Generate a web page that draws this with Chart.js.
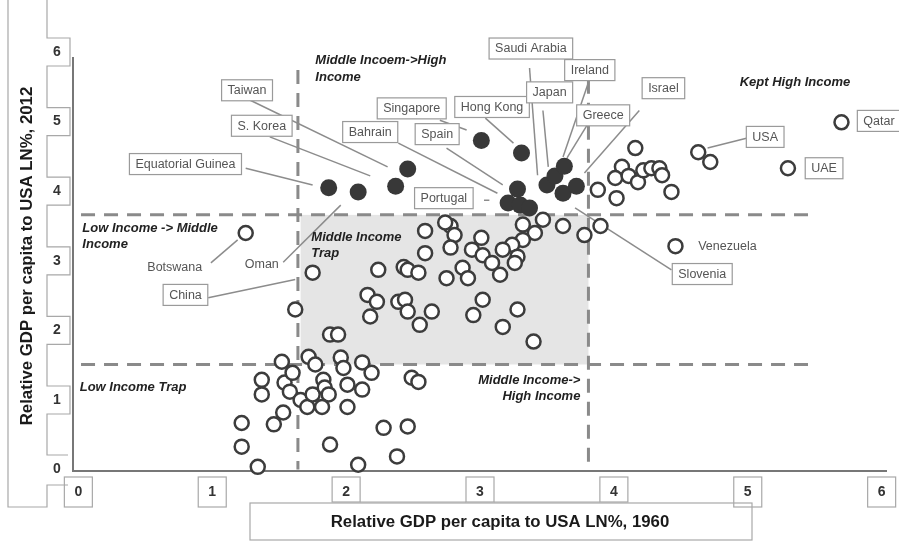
<!DOCTYPE html>
<html>
<head>
<meta charset="utf-8">
<script src="https://cdn.jsdelivr.net/npm/chart.js@4.4.1/dist/chart.umd.min.js"></script>
<style>
  body { margin: 0; background: #fff; }
  canvas { display: block; }
</style>
</head>
<body>
<canvas id="chart" width="899" height="543"></canvas>
<script>
// countries that moved up to high income (filled dots)
const upX = [1.87, 2.09, 2.37, 2.46, 3.01, 3.31, 3.28, 3.21, 3.30, 3.37, 3.50, 3.56, 3.63, 3.62, 3.72];
const upY = [4.05, 3.99, 4.07, 4.32, 4.73, 4.55, 4.03, 3.83, 3.80, 3.76, 4.09, 4.22, 4.36, 3.97, 4.07];

// all other countries (open dots)
const otherX = [4.16, 4.06, 4.01, 4.11, 4.18, 4.22, 4.28, 4.34, 4.36, 4.43, 4.02, 3.88, 4.63, 4.72, 5.30, 5.70, 4.46,
  3.90, 3.78, 3.62, 3.47, 3.41, 3.32, 3.32, 3.24, 3.17, 3.28, 3.26, 3.01, 2.94, 3.02, 3.09, 3.15, 2.87, 2.91, 2.75,
  2.78, 2.81, 2.78, 2.59, 2.74, 2.59, 3.02, 2.95, 3.28, 3.17, 3.40, 1.75, 2.24, 2.43, 2.46, 2.54, 2.16, 2.23, 2.18,
  2.39, 2.44, 2.46, 2.55, 2.64, 1.88, 1.94, 1.62, 1.72, 1.96, 2.12, 1.52, 1.77, 1.98, 2.19, 1.37, 1.37, 1.54, 1.60,
  1.58, 1.66, 1.71, 1.75, 1.83, 1.84, 1.87, 1.82, 2.01, 2.12, 2.01, 1.53, 1.46, 1.22, 1.22, 1.34, 1.88, 2.09, 2.28,
  2.46, 2.38, 2.49, 2.54, 1.25];
const otherY = [4.62, 4.35, 4.19, 4.22, 4.13, 4.30, 4.33, 4.33, 4.23, 3.99, 3.90, 4.02, 4.56, 4.42, 4.33, 4.99, 3.21,
  3.50, 3.37, 3.50, 3.59, 3.40, 3.52, 3.30, 3.23, 3.16, 3.06, 2.97, 3.33, 3.16, 3.08, 2.97, 2.80, 2.90, 2.75, 2.75,
  3.50, 3.37, 3.19, 3.43, 3.55, 3.11, 2.44, 2.22, 2.30, 2.05, 1.84, 2.83, 2.87, 2.91, 2.87, 2.83, 2.51, 2.41, 2.20,
  2.41, 2.44, 2.27, 2.08, 2.27, 1.94, 1.94, 2.30, 1.62, 1.61, 1.54, 1.55, 1.51, 1.46, 1.39, 1.29, 1.08, 1.25, 1.39,
  1.12, 1.00, 0.90, 1.08, 1.29, 1.18, 1.08, 0.90, 1.22, 1.15, 0.90, 0.82, 0.65, 0.67, 0.33, 0.04, 0.36, 0.07, 0.60,
  0.62, 0.19, 1.32, 1.26, 3.40];

const xTicks = ['0', '1', '2', '3', '4', '5', '6'];
const yTicks = ['0', '1', '2', '3', '4', '5', '6'];

// thresholds of the income zones
const zoneX = [1.64, 3.81];
const zoneY = [1.51, 3.66];
const trapBox = [1.66, 3.81, 1.51, 3.66];

// zone captions: text, x, y, align
const zoneText = [
  ['Middle Incoem->High', 1.77, 5.88, 'left'],
  ['Income', 1.77, 5.64, 'left'],
  ['Kept High Income', 4.94, 5.57, 'left'],
  ['Low Income -> Middle', 0.03, 3.47, 'left'],
  ['Income', 0.03, 3.24, 'left'],
  ['Middle Income', 1.74, 3.34, 'left'],
  ['Trap', 1.74, 3.11, 'left'],
  ['Low Income Trap', 0.01, 1.18, 'left'],
  ['Middle Income->', 3.75, 1.28, 'right'],
  ['High Income', 3.75, 1.05, 'right']
];

// country names in boxes (centre of box)
const boxNames = ['Taiwan', 'S. Korea', 'Equatorial Guinea', 'Bahrain', 'Singapore', 'Spain', 'Hong Kong',
  'Saudi Arabia', 'Ireland', 'Japan', 'Greece', 'Israel', 'Portugal', 'USA', 'UAE', 'Qatar', 'Slovenia', 'China'];
const boxX = [1.26, 1.37, 0.80, 2.18, 2.49, 2.68, 3.09, 3.38, 3.82, 3.52, 3.92, 4.37, 2.73, 5.13, 5.57, 5.98, 4.66, 0.80];
const boxY = [5.45, 4.94, 4.39, 4.85, 5.19, 4.82, 5.21, 6.05, 5.74, 5.42, 5.09, 5.48, 3.90, 4.78, 4.33, 5.01, 2.81, 2.51];

// plain country names
const plainNames = ['Venezuela', 'Botswana', 'Oman'];
const plainX = [4.63, 0.72, 1.37];
const plainY = [3.20, 2.90, 2.94];
const plainAlign = ['left', 'center', 'center'];

// leader lines [x1, y1, x2, y2]
const leaders = [
  [1.28, 5.31, 2.31, 4.35], [1.43, 4.78, 2.18, 4.22], [1.25, 4.33, 1.75, 4.09], [2.39, 4.69, 3.13, 3.97],
  [2.70, 5.02, 2.90, 4.88], [2.75, 4.62, 3.17, 4.09], [3.04, 5.05, 3.25, 4.69], [3.37, 5.77, 3.43, 4.23],
  [3.47, 5.16, 3.51, 4.35], [3.82, 5.62, 3.62, 4.49], [3.80, 4.95, 3.65, 4.48], [4.19, 5.16, 3.78, 4.26],
  [3.03, 3.87, 3.07, 3.87], [4.70, 4.62, 4.99, 4.76], [3.71, 3.76, 4.43, 2.87], [0.97, 2.47, 1.62, 2.73],
  [0.99, 2.97, 1.19, 3.30], [1.53, 2.98, 1.96, 3.80]
];

const toPts = (xs, ys) => xs.map((x, i) => ({ x: x, y: ys[i] }));

const zonesPlugin = {
  id: 'zones',
  beforeDatasetsDraw(chart) {
    const ctx = chart.ctx, sx = chart.scales.x, sy = chart.scales.y;
    ctx.save();
    // shaded middle income trap
    ctx.fillStyle = '#e5e5e5';
    const l = sx.getPixelForValue(trapBox[0]), r = sx.getPixelForValue(trapBox[1]);
    const b = sy.getPixelForValue(trapBox[2]), t = sy.getPixelForValue(trapBox[3]);
    ctx.fillRect(l, t, r - l, b - t);

    ctx.strokeStyle = '#8a8a8a';
    ctx.lineWidth = 3;
    ctx.setLineDash([14, 9]);
    zoneY.forEach(v => {
      ctx.beginPath();
      ctx.moveTo(sx.getPixelForValue(0.02), sy.getPixelForValue(v));
      ctx.lineTo(sx.getPixelForValue(5.45), sy.getPixelForValue(v));
      ctx.stroke();
    });
    const tops = [5.74, 5.6];
    zoneX.forEach((v, i) => {
      ctx.beginPath();
      ctx.moveTo(sx.getPixelForValue(v), sy.getPixelForValue(tops[i]));
      ctx.lineTo(sx.getPixelForValue(v), sy.getPixelForValue(0));
      ctx.stroke();
    });
    ctx.setLineDash([]);

    // leader lines
    ctx.strokeStyle = '#8c8c8c';
    ctx.lineWidth = 1.5;
    leaders.forEach(s => {
      ctx.beginPath();
      ctx.moveTo(sx.getPixelForValue(s[0]), sy.getPixelForValue(s[1]));
      ctx.lineTo(sx.getPixelForValue(s[2]), sy.getPixelForValue(s[3]));
      ctx.stroke();
    });

    // axis lines
    ctx.strokeStyle = '#777';
    ctx.lineWidth = 2;
    const a = chart.chartArea;
    ctx.beginPath();
    ctx.moveTo(a.left, a.top + 5);
    ctx.lineTo(a.left, a.bottom);
    ctx.lineTo(a.right, a.bottom);
    ctx.stroke();
    ctx.restore();
  },
  afterDatasetsDraw(chart) {
    const ctx = chart.ctx, sx = chart.scales.x, sy = chart.scales.y;
    ctx.save();
    ctx.textBaseline = 'middle';

    // zone captions
    ctx.fillStyle = '#222';
    ctx.font = 'italic bold 13px "Liberation Sans", Arial, sans-serif';
    zoneText.forEach(z => {
      ctx.textAlign = z[3];
      ctx.fillText(z[0], sx.getPixelForValue(z[1]), sy.getPixelForValue(z[2]));
    });

    // boxed names
    ctx.font = '12.5px "Liberation Sans", Arial, sans-serif';
    ctx.textAlign = 'center';
    boxNames.forEach((n, i) => {
      const cx = sx.getPixelForValue(boxX[i]), cy = sy.getPixelForValue(boxY[i]);
      const w = ctx.measureText(n).width + 12, h = 21;
      ctx.fillStyle = '#fff';
      ctx.fillRect(cx - w / 2, cy - h / 2, w, h);
      ctx.strokeStyle = '#9a9a9a';
      ctx.lineWidth = 1.2;
      ctx.strokeRect(cx - w / 2, cy - h / 2, w, h);
      ctx.fillStyle = '#555';
      ctx.fillText(n, cx, cy + 0.5);
    });

    ctx.fillStyle = '#555';
    plainNames.forEach((n, i) => {
      ctx.textAlign = plainAlign[i];
      ctx.fillText(n, sx.getPixelForValue(plainX[i]), sy.getPixelForValue(plainY[i]));
    });

    // tick label boxes, scanned-frame look
    ctx.strokeStyle = '#a8a8a8';
    ctx.lineWidth = 1.2;
    ctx.fillStyle = '#333';
    ctx.font = 'bold 14px "Liberation Sans", Arial, sans-serif';
    ctx.textAlign = 'center';

    // y axis staircase
    ctx.beginPath();
    ctx.moveTo(47, 0);
    for (let i = yTicks.length - 1; i >= 1; i--) {
      const p = sy.getPixelForValue(+yTicks[i]);
      ctx.lineTo(47, p - 14);
      ctx.lineTo(70, p - 14);
      ctx.lineTo(70, p + 14);
      ctx.lineTo(47, p + 14);
    }
    ctx.lineTo(47, 455);
    ctx.lineTo(68, 455);
    ctx.stroke();
    ctx.beginPath();
    ctx.moveTo(8, 0);
    ctx.lineTo(8, 507);
    ctx.lineTo(47, 507);
    ctx.lineTo(47, 485);
    ctx.lineTo(68, 485);
    ctx.stroke();
    yTicks.forEach(t => ctx.fillText(t, 57, sy.getPixelForValue(+t)));

    // x axis boxes
    xTicks.forEach((t, i) => {
      const p = sx.getPixelForValue(+t);
      const bottom = (i >= 2 && i <= 4) ? 502 : 507;
      ctx.strokeRect(p - 14, 477, 28, bottom - 477);
      ctx.fillText(t, p, 492);
    });
    ctx.beginPath();
    ctx.moveTo(sx.getPixelForValue(2) + 14, 502);
    ctx.lineTo(sx.getPixelForValue(3) - 14, 502);
    ctx.moveTo(sx.getPixelForValue(3) + 14, 502);
    ctx.lineTo(sx.getPixelForValue(4) - 14, 502);
    ctx.stroke();
    ctx.strokeRect(250, 503, 502, 37);

    // axis titles
    ctx.fillStyle = '#1a1a1a';
    ctx.font = 'bold 16.8px "Liberation Sans", Arial, sans-serif';
    ctx.fillText('Relative GDP per capita to USA LN%, 1960', 500, 522);
    ctx.translate(27, 256);
    ctx.rotate(-Math.PI / 2);
    ctx.fillText('Relative GDP per capita to USA LN%, 2012', 0, 0);
    ctx.restore();
  }
};

new Chart(document.getElementById('chart').getContext('2d'), {
  type: 'scatter',
  data: {
    datasets: [
      {
        label: 'Other countries',
        data: toPts(otherX, otherY),
        pointRadius: 7,
        borderWidth: 2.5,
        borderColor: '#3c3c3c',
        backgroundColor: '#fff',
        clip: false
      },
      {
        label: 'Middle income -> high income',
        data: toPts(upX, upY),
        pointRadius: 8.5,
        borderWidth: 0,
        borderColor: '#383838',
        backgroundColor: '#383838',
        clip: false
      }
    ]
  },
  options: {
    responsive: false,
    animation: false,
    devicePixelRatio: 1,
    layout: { padding: { left: 73, right: 12, top: 52, bottom: 72 } },
    scales: {
      x: { type: 'linear', min: -0.04, max: 6.04, display: false },
      y: { type: 'linear', min: -0.02, max: 6, display: false }
    },
    plugins: {
      legend: { display: false },
      tooltip: { enabled: false }
    }
  },
  plugins: [zonesPlugin]
});
</script>
</body>
</html>
